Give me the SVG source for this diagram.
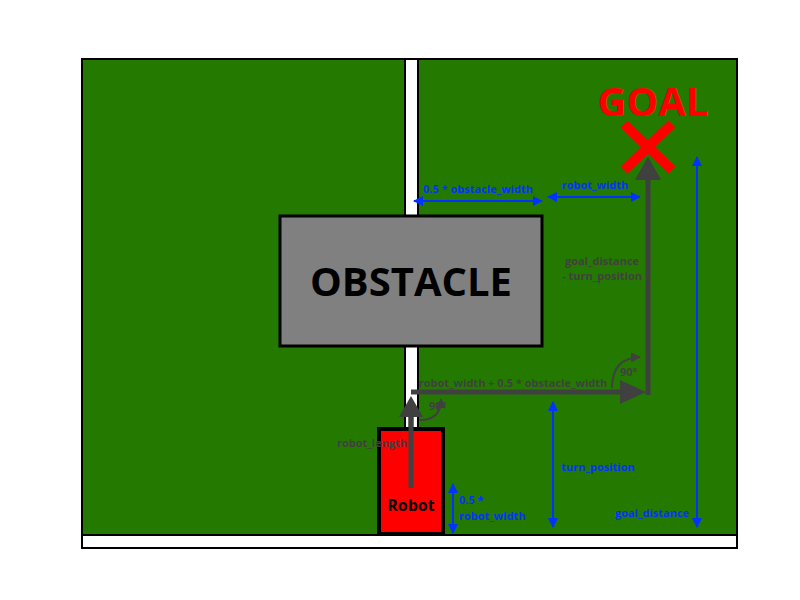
<svg xmlns="http://www.w3.org/2000/svg" width="800" height="600" viewBox="0 0 800 600">
<style>
.b{font-family:"Open Sans","Liberation Sans",sans-serif;font-weight:bold}
.dim{stroke:#0033ff;stroke-width:2;fill:none;marker-start:url(#ba);marker-end:url(#ba)}
.bl{fill:#0033ff;font-size:11px}
.gl{fill:#404040;font-size:11px}
.path{stroke:#404040;stroke-width:5;fill:none}
.cur{stroke:#404040;stroke-width:2;fill:none;marker-end:url(#ga)}
</style>
<defs>
<marker id="ba" viewBox="0 0 10 10" refX="9" refY="5" markerWidth="5" markerHeight="5" orient="auto-start-reverse"><path d="M0,0L10,5L0,10z" fill="#0033ff"/></marker>
<marker id="ga" viewBox="0 0 10 10" refX="9" refY="5" markerWidth="5" markerHeight="5" orient="auto"><path d="M0,0L10,5L0,10z" fill="#404040"/></marker>
</defs>
<rect width="800" height="600" fill="#fff"/>
<g id="field">
<rect x="82" y="59" width="655" height="476" fill="#247a00" stroke="#000" stroke-width="2"/>
<rect x="82" y="535" width="655" height="13" fill="#fff" stroke="#000" stroke-width="2"/>
<rect x="405" y="59" width="13" height="476" fill="#fff" stroke="#000" stroke-width="2"/>
</g>
<g id="connectors">
<line class="path" x1="411" y1="488" x2="411" y2="414"/>
<polygon points="411,396 399,417 423,417" fill="#404040"/>
<line class="path" x1="411" y1="392" x2="625" y2="392"/>
<polygon points="646,392 620,380 620,404" fill="#404040"/>
<line class="path" x1="648" y1="395" x2="648" y2="178"/>
<polygon points="648,157 635,180 661,180" fill="#404040"/>
<path class="cur" d="M420,420 Q441,420 441,399"/>
<path class="cur" d="M612,388 Q612,358 640,357"/>
<line class="dim" x1="414" y1="201" x2="542" y2="201"/>
<line class="dim" x1="548" y1="197" x2="640" y2="197"/>
<line class="dim" x1="697" y1="157" x2="697" y2="527"/>
<line class="dim" x1="553" y1="402" x2="553" y2="527"/>
<line class="dim" x1="453" y1="484" x2="453" y2="533"/>
</g>
<g id="obstacle">
<rect x="280" y="216" width="262" height="130" fill="#808080" stroke="#000" stroke-width="3"/>
<text class="b" x="411" y="296" font-size="40" text-anchor="middle">OBSTACLE</text>
</g>
<g id="robot">
<rect x="379" y="429" width="64" height="105" fill="#ff0000" stroke="#000" stroke-width="4"/>
<line class="path" x1="411" y1="488" x2="411" y2="414"/>
<text class="b" x="411" y="511" font-size="16" text-anchor="middle">Robot</text>
</g>
<g id="goal">
<line x1="624" y1="124" x2="672" y2="170" stroke="#ff0000" stroke-width="10"/>
<line x1="672" y1="124" x2="624" y2="170" stroke="#ff0000" stroke-width="10"/>
<polygon points="648,157 635,180 661,180" fill="#404040"/>
<text class="b" x="653" y="116" font-size="40" fill="#ff0000" text-anchor="middle">GOAL</text>
</g>
<g id="labels" class="b">
<text class="bl" x="478" y="193" text-anchor="middle">0.5 * obstacle_width</text>
<text class="bl" x="595" y="189" text-anchor="middle">robot_width</text>
<text class="bl" x="598" y="471" text-anchor="middle">turn_position</text>
<text class="bl" x="652" y="517" text-anchor="middle">goal_distance</text>
<text class="bl" x="459" y="504">0.5 *</text>
<text class="bl" x="459" y="520">robot_width</text>
<text class="gl" x="602" y="265" font-size="10" text-anchor="middle">goal_distance</text>
<text class="gl" x="602" y="280" font-size="10" text-anchor="middle">- turn_position</text>
<text class="gl" x="513" y="387" font-size="10" text-anchor="middle">robot_width + 0.5 * obstacle_width</text>
<text class="gl" x="429" y="410">90°</text>
<text class="gl" x="620" y="376">90°</text>
<text class="gl" x="372" y="447" font-size="10" text-anchor="middle">robot_length</text>
</g>
</svg>
